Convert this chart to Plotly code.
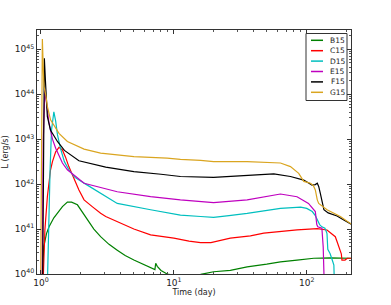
import plotly.graph_objects as go

# ---- data (time in days, log10 luminosity in erg/s) ----
b15_t = [1.02, 1.03, 1.05, 1.1, 1.15, 1.25, 1.33, 1.45, 1.58, 1.7, 1.88, 2.05, 2.23, 2.5, 2.81, 3.25, 3.75, 4.3, 5.0, 6.0, 7.07, 7.2, 7.3, 7.5, 8.0, 8.9, 10, 13, 15.9, 19.9, 26.6, 35.6, 50, 63.4, 84.5, 113, 150, 216]
b15_l = [39.9, 40.3, 40.61, 40.9, 41.05, 41.25, 41.35, 41.5, 41.6, 41.6, 41.54, 41.38, 41.2, 41.0, 40.83, 40.66, 40.53, 40.41, 40.31, 40.2, 40.1, 40.1, 40.24, 40.17, 40.08, 40.0, 39.97, 39.95, 39.99, 40.05, 40.08, 40.16, 40.22, 40.27, 40.31, 40.35, 40.36, 40.35]

c15_t = [1.04, 1.06, 1.07, 1.117, 1.18, 1.22, 1.29, 1.366, 1.45, 1.53, 1.62, 1.93, 2.11, 2.43, 2.81, 3.07, 3.75, 5, 6.68, 10, 13, 15.9, 19, 26.6, 37.7, 47.5, 84.5, 120, 142, 158, 164, 170, 175, 179, 182, 184, 194, 202, 216]
c15_l = [39.9, 40.6, 40.98, 41.72, 42.32, 42.5, 42.72, 42.82, 42.76, 42.6, 42.39, 41.87, 41.65, 41.5, 41.35, 41.28, 41.16, 41.0, 40.87, 40.8, 40.73, 40.70, 40.7, 40.8, 40.85, 40.91, 40.98, 41.01, 40.98, 40.88, 40.83, 40.7, 40.61, 40.5, 40.45, 40.31, 40.31, 40.35, 40.35]

d15_t = [1.12, 1.14, 1.17, 1.2, 1.25, 1.29, 1.33, 1.4, 1.5, 1.62, 1.8, 2.17, 3.07, 3.75, 6.68, 11.2, 15.9, 19.9, 26, 35.6, 63.4, 89.9, 100, 110, 116, 120, 125, 130, 137, 140, 142, 144, 150, 156, 160, 161]
d15_l = [39.9, 41.0, 42.3, 43.2, 43.61, 43.4, 43.1, 42.8, 42.5, 42.32, 42.15, 42.0, 41.72, 41.57, 41.43, 41.31, 41.28, 41.26, 41.3, 41.35, 41.46, 41.49, 41.46, 41.39, 41.3, 41.2, 41.1, 41.05, 41.02, 40.95, 40.9, 40.55, 40.45, 40.3, 40.2, 39.9]

e15_t = [1.02, 1.04, 1.07, 1.1, 1.15, 1.22, 1.29, 1.45, 1.58, 2.11, 3.75, 6.68, 11.2, 19.9, 35.6, 63.4, 84.5, 103, 116, 119, 121, 130, 133, 135]
e15_l = [39.9, 43.0, 44.1, 43.8, 43.35, 43.0, 42.8, 42.47, 42.32, 42.02, 41.83, 41.72, 41.65, 41.59, 41.65, 41.78, 41.72, 41.57, 41.39, 41.1, 41.05, 41.02, 40.6, 39.9]

f15_t = [1.03, 1.045, 1.06, 1.08, 1.117, 1.18, 1.33, 1.5, 1.93, 3.07, 5, 8, 11.2, 19.9, 35.6, 56.5, 75.4, 94.9, 109.5, 116, 120, 123, 126.4, 134.6, 145, 169, 190, 216]
f15_l = [39.9, 44.2, 44.80, 44.3, 43.5, 43.2, 42.95, 42.75, 42.52, 42.38, 42.28, 42.22, 42.17, 42.15, 42.20, 42.23, 42.17, 42.09, 41.98, 41.99, 42.02, 41.95, 41.80, 41.43, 41.36, 41.29, 41.2, 41.11]

g15_t = [0.995, 1.01, 1.024, 1.04, 1.053, 1.085, 1.117, 1.18, 1.22, 1.366, 1.58, 2.11, 2.81, 5, 8.9, 11.2, 15.9, 19.9, 35.6, 63.4, 75.4, 87, 95, 106.6, 112, 116, 120, 123, 142, 179, 216]
g15_l = [39.9, 43.5, 45.23, 44.6, 44.17, 44.0, 43.73, 43.43, 43.36, 43.13, 42.95, 42.78, 42.69, 42.61, 42.58, 42.55, 42.53, 42.50, 42.50, 42.47, 42.39, 42.24, 42.06, 42.02, 41.97, 41.87, 41.65, 41.57, 41.43, 41.28, 41.11]

names = ["B15", "C15", "D15", "E15", "F15", "G15"]
colors = ["#008000", "#ff0000", "#00bfbf", "#bf00bf", "#000000", "#daa520"]
times = [b15_t, c15_t, d15_t, e15_t, f15_t, g15_t]
lums = [b15_l, c15_l, d15_l, e15_l, f15_l, g15_l]

x_ticks = [1.0, 10.0, 100.0]
x_ticktext = ["10<sup>0</sup>", "10<sup>1</sup>", "10<sup>2</sup>"]
y_exps = [40, 41, 42, 43, 44, 45]

fig = go.Figure()
for name, t, l, c in zip(names, times, lums, colors):
    fig.add_trace(go.Scatter(x=t, y=[10.0 ** v for v in l], mode="lines", name=name,
                             line=dict(color=c, width=1.2), showlegend=False))

def minor_vals(lo, hi):
    return [float(m) * 10.0 ** e for e in range(lo, hi) for m in range(2, 10)]

axis_common = dict(
    type="log", showgrid=False, zeroline=False, automargin=False,
    showline=True, linecolor="#333", linewidth=1, mirror="allticks",
    ticks="inside", ticklen=4, tickcolor="#333", tickmode="array",
    tickfont=dict(family="DejaVu Sans", size=9, color="#222"),
)

fig.update_layout(
    width=391, height=305,
    margin=dict(l=37, r=40, t=30, b=31),
    paper_bgcolor="white", plot_bgcolor="white",
    font=dict(family="DejaVu Sans", size=8, color="#222"),
    xaxis=dict(axis_common, range=[-0.03, 2.333],
               tickvals=x_ticks, ticktext=x_ticktext,
               minor=dict(ticks="inside", ticklen=2, tickcolor="#555", showgrid=False,
                          tickmode="array", tickvals=minor_vals(-1, 3)),
               title=dict(text="Time (day)", font=dict(size=8), standoff=0)),
    yaxis=dict(axis_common, range=[40, 45.43],
               tickvals=[10.0 ** e for e in y_exps],
               ticktext=["10<sup>%d</sup>" % e for e in y_exps],
               minor=dict(ticks="inside", ticklen=2, tickcolor="#555", showgrid=False,
                          tickmode="array", tickvals=minor_vals(40, 46)),
               title=dict(text="L (erg/s)", font=dict(size=8), standoff=4)),
    showlegend=False,
)

# ---- compact legend box (matplotlib style), placed in pixel terms ----
plot_l, plot_t, plot_w, plot_h = 37, 30, 391 - 37 - 40, 305 - 30 - 31
def px(xp):
    return (xp - plot_l) / plot_w
def py(yp):
    return (plot_t + plot_h - yp) / plot_h

fig.add_shape(type="rect", xref="paper", yref="paper",
              x0=px(306), x1=px(347), y0=py(100.5), y1=py(33.5),
              line=dict(color="#333", width=1), fillcolor="white", layer="above")
for i, (name, c) in enumerate(zip(names, colors)):
    yy = 40.3 + i * 10.4
    fig.add_shape(type="line", xref="paper", yref="paper",
                  x0=px(311), x1=px(323), y0=py(yy), y1=py(yy),
                  line=dict(color=c, width=1.5), layer="above")
    fig.add_annotation(text=name, xref="paper", yref="paper", x=px(337.5), y=py(yy),
                       xanchor="center", yanchor="middle", showarrow=False,
                       font=dict(family="DejaVu Sans", size=7.5, color="#222"))

fig.write_html("out.html", config={"displayModeBar": False},
               post_script="document.body.style.margin='0';document.body.style.overflow='hidden';")
